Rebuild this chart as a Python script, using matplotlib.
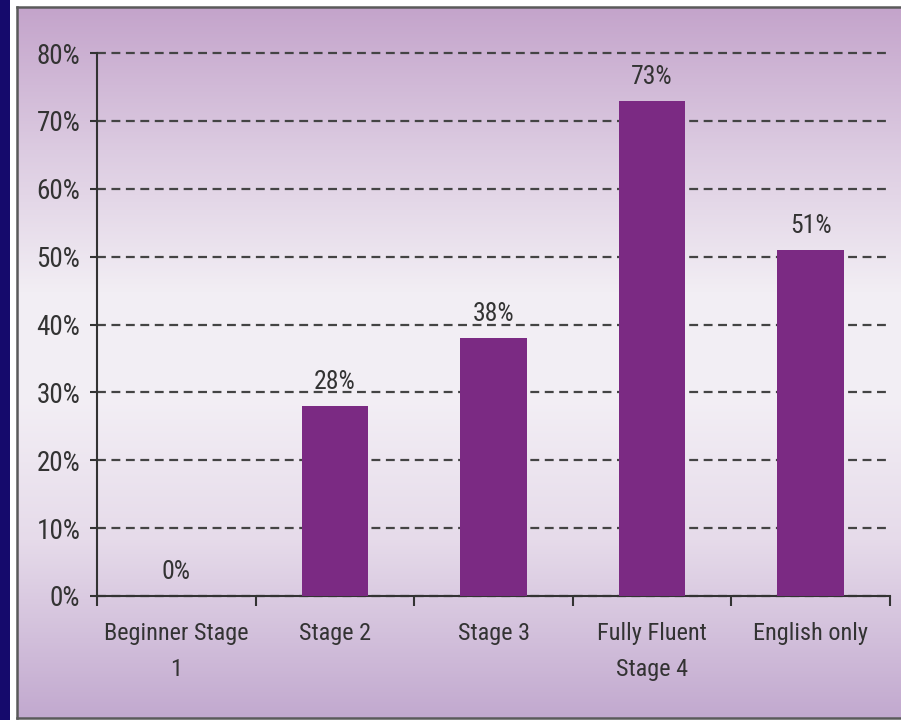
import matplotlib.pyplot as plt
import numpy as np
from matplotlib.colors import LinearSegmentedColormap
from matplotlib.patches import Rectangle

categories = ['Beginner Stage\n1', 'Stage 2', 'Stage 3', 'Fully Fluent\nStage 4', 'English only']
values = [0, 28, 38, 73, 51]
labels = ['0%', '28%', '38%', '73%', '51%']
yticks = [0, 10, 20, 30, 40, 50, 60, 70, 80]

plt.rcParams['font.family'] = ['Roboto Condensed', 'Liberation Sans', 'DejaVu Sans']
txt_color = '#333333'

W, H = 901, 720
fig = plt.figure(figsize=(W / 100, H / 100), dpi=100)
fig.patch.set_facecolor('white')

# navy strip on the left
fig.patches.append(Rectangle((0, 0), 10 / W, 1, transform=fig.transFigure,
                             facecolor='#150a6c', edgecolor='none', zorder=0))

# gradient panel
bg = fig.add_axes([17 / W, 2 / H, 1 - 17 / W, (H - 9) / H])
cmap = LinearSegmentedColormap.from_list('panel', [
    (0.0, '#c2a9cf'), (0.25, '#e6dbea'), (0.45, '#f3eff5'),
    (0.6, '#f2eef4'), (0.8, '#dccbe1'), (1.0, '#c4a4cb')])
grad = np.linspace(0, 1, 256).reshape(-1, 1)
bg.imshow(grad, aspect='auto', cmap=cmap, origin='lower', extent=[0, 1, 0, 1])
bg.set_xlim(0, 1)
bg.set_ylim(0, 1)
bg.set_xticks([])
bg.set_yticks([])
for s in ['left', 'top', 'bottom']:
    bg.spines[s].set_color('#5a5a5a')
    bg.spines[s].set_linewidth(1.8)
bg.spines['right'].set_visible(False)

ax = fig.add_axes([97 / W, (H - 596) / H, (890 - 97) / W, (596 - 53) / H])
ax.patch.set_alpha(0)
x = np.arange(len(categories))
bars = ax.bar(x, values, width=0.42, color='#7b2a83', zorder=3)
for b, lab in zip(bars, labels):
    ax.annotate(lab, (b.get_x() + b.get_width() / 2, b.get_height()),
                xytext=(0, 12), textcoords='offset points', ha='center', va='baseline',
                fontsize=18.5, color=txt_color)

ax.set_xlim(-0.5, len(categories) - 0.5)
ax.set_ylim(0, 80)
ax.set_yticks(yticks)
ax.set_yticklabels([f'{t}%' for t in yticks], fontsize=19.5, color=txt_color)
ax.set_xticks(x)
ax.set_xticklabels(categories, fontsize=17.5, color=txt_color, linespacing=1.7)
ax.set_xticks(np.arange(len(categories) + 1) - 0.5, minor=True)
ax.tick_params(axis='x', which='major', length=0, pad=19)
ax.tick_params(axis='x', which='minor', length=7, width=1.5, color='#333333', direction='out')
ax.tick_params(axis='y', length=5, width=1.5, color='#333333', pad=7)
ax.yaxis.grid(True, linestyle=(0, (4, 2.5)), color='#444444', linewidth=1.6)
for g in ax.yaxis.get_gridlines():
    g.set_clip_on(False)
ax.spines['top'].set_visible(False)
ax.spines['right'].set_visible(False)
ax.spines['left'].set_color('#333333')
ax.spines['bottom'].set_color('#333333')
ax.spines['left'].set_linewidth(1.5)
ax.spines['bottom'].set_linewidth(1.5)
ax.set_axisbelow(True)

fig.savefig('out.png', dpi=100)
